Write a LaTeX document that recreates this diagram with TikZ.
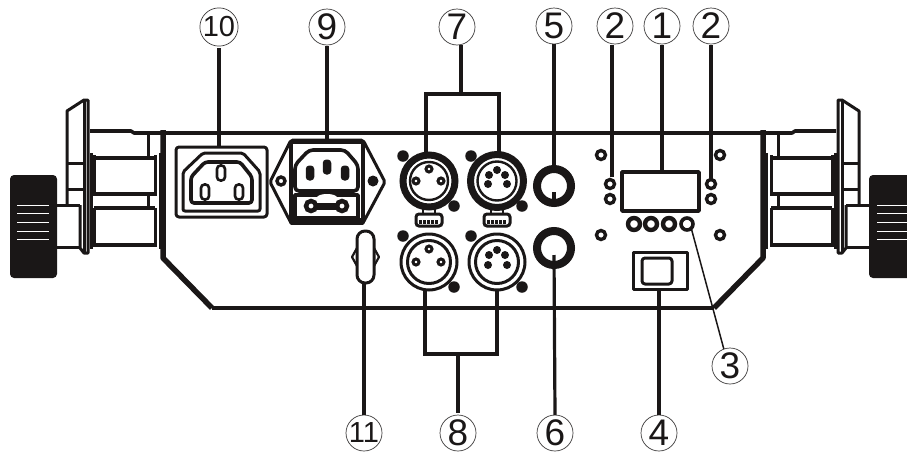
\documentclass[tikz,border=0pt]{standalone}
\usepackage{fontspec}
\setmainfont{Liberation Sans}
\definecolor{ink}{HTML}{1A1717}
\tikzset{
  every node/.style={outer sep=0pt,inner sep=0pt},
  lbl/.style={circle,draw=ink!85,line width=0.7pt,minimum size=36pt,text=ink,font=\fontsize{37}{37}\selectfont},
  lblsmall/.style={lbl,font=\fontsize{29}{29}\selectfont},
  conn/.style={draw=ink,line width=3.2pt},
  connthin/.style={draw=ink,line width=1.5pt},
  body/.style={draw=ink,line width=3.4pt},
  part/.style={draw=ink,line width=3pt,line join=round},
  thick part/.style={draw=ink,line width=3.6pt,line join=round},
  ringsmall/.style={circle,draw=ink,line width=3.4pt,fill=white,minimum size=9pt},
  button/.style={circle,draw=ink,line width=4.4pt,fill=white,minimum size=12pt},
  screw/.style={circle,fill=ink,minimum size=11.5pt},
  pinring/.style={circle,draw=ink,line width=3pt,fill=white,minimum size=6pt},
  pindot/.style={circle,fill=ink,minimum size=8pt},
  prong/.style={draw=ink,line width=2.6pt,fill=white,rounded corners=3.5pt,minimum width=8pt,minimum height=15pt},
  prongfill/.style={fill=ink,rounded corners=3.5pt,minimum width=8.5pt,minimum height=15pt},
}
\newcommand{\sidebracket}{%
  \fill[ink,rounded corners=4pt] (10,175) rectangle (57,278);
  \foreach \yy in {205,213,222,231,239}{\draw[white,line width=0.9pt] (17,\yy) -- (49,\yy);}
  \draw[part] (57,205) -- (80,205) (57,247) -- (80,247);
  \draw[part] (67,205) -- (67,111) -- (84,100) -- (88,100) -- (88,253) -- (84,253) -- (80,248) -- (80,205);
  \draw[part] (84,100) -- (84,253);
  \draw[part] (67,163) -- (84,163) (67,189) -- (84,189);
  \draw[thick part] (90,131) -- (131,131) -- (134,133) -- (163,133);
  \draw[part] (148,133) -- (148,158) (148,196) -- (148,208);
  \draw[part] (91,153) -- (91,249) (94,155) -- (94,196) (94,208) -- (94,247);
  \draw[part] (155,155) -- (155,196) (155,208) -- (155,247) (160,153) -- (160,249);
  \draw[thick part] (94,158) -- (155,158) (94,194) -- (155,194) (94,208) -- (155,208) (94,245) -- (155,245);
}
\begin{document}
\begin{tikzpicture}[x=1pt,y=-1pt]
\useasboundingbox (0,0) rectangle (907,453);
\clip (0,0) rectangle (907,453);
% brackets
\sidebracket
\begin{scope}[shift={(926,0)},xscale=-1]\sidebracket\end{scope}
% body
\draw[body] (163,133) -- (763,133);
\draw[body] (212,308) -- (714,308);
\draw[draw=ink,line width=5.5pt,line join=round] (163,130) -- (163,258) -- (212,308);
\draw[draw=ink,line width=5.5pt,line join=round] (763,130) -- (763,258) -- (714,308);
% labels
\node[lblsmall] (l10) at (219,27) {10};
\node[lbl] (l9) at (327,27) {9};
\node[lbl] (l7) at (457,27) {7};
\node[lbl] (l5) at (554,26) {5};
\node[lbl] (l2a) at (615,26) {2};
\node[lbl] (l1) at (662,26) {1};
\node[lbl] (l2b) at (711,26) {2};
\node[lbl] (l3) at (730,366) {3};
\node[lblsmall] (l11) at (364,433) {11};
\node[lbl] (l8) at (458,433) {8};
\node[lbl] (l6) at (555,433) {6};
\node[lbl] (l4) at (659,433) {4};
% inlet 10
\node[part,rounded corners=3pt,minimum width=91pt,minimum height=70pt] (inletA) at (221.5,182) {};
\draw[part,rounded corners=2pt] (183,172) -- (203,153) -- (243,153) -- (260,172) -- (260,211) -- (183,211) -- cycle;
\draw[thick part,rounded corners=3pt] (191,177) -- (205,162) -- (240,162) -- (252,177) -- (252,203) -- (191,203) -- cycle;
\node[prong] (pa1) at (221,173) {};
\node[prong] (pa2) at (205,192) {};
\node[prong] (pa3) at (239,192) {};
% inlet 9
\draw[part,rounded corners=2pt] (291,140) -- (270,182) -- (291,223) -- (363,223) -- (385,182) -- (363,140) -- cycle;
\node[thick part,minimum width=72pt,minimum height=81pt] (inletB) at (327,182.5) {};
\fill[ink] (291,218) rectangle (363,224);
\draw[thick part,rounded corners=4pt] (295,165) -- (309,150) -- (345,150) -- (358,165) -- (358,191) -- (295,191) -- cycle;
\node[prongfill] (pb1) at (310,173) {};
\node[prongfill] (pb2) at (327,167) {};
\node[prongfill] (pb3) at (345,173) {};
\draw[thick part] (295,195) rectangle (358,218);
\node[ringsmall,minimum size=8pt] (holeL) at (281,181) {};
\node[circle,fill=ink,minimum size=11pt] (holeR) at (373,181) {};
\fill[ink] (311,202.5) rectangle (342,209.5);
\node[circle,draw=ink,line width=4.5pt,fill=white,minimum size=10pt] (fuseL) at (311,206) {};
\node[circle,draw=ink,line width=4.5pt,fill=white,minimum size=10pt] (fuseR) at (342,206) {};
\fill[white] (327,197.5) ellipse (10pt and 3.5pt);
% xlr top
\node[circle,draw=ink,line width=7pt,minimum size=52pt] (xa) at (429,181) {};
\node[circle,draw=ink,line width=2.4pt,minimum size=38pt] (xai) at (429,181) {};
\node[circle,draw=ink,line width=7pt,minimum size=53pt] (xb) at (497,181) {};
\node[circle,draw=ink,line width=2.4pt,minimum size=39pt] (xbi) at (497,181) {};
\node[pinring] (xa1) at (429,169) {};
\node[pinring] (xa2) at (416,181) {};
\node[pinring] (xa3) at (441,181) {};
\node[pindot] (xb1) at (497,170) {};
\node[pindot] (xb2) at (489,175) {};
\node[pindot] (xb3) at (505,175) {};
\node[pindot] (xb4) at (488,184) {};
\node[pindot] (xb5) at (507,184) {};
\node[screw] (sa1) at (403,156) {};
\node[screw] (sa2) at (454,206) {};
\node[screw] (sb1) at (471,156) {};
\node[screw] (sb2) at (522,206) {};
\foreach \cx in {429,497}{
  \draw[part,line width=2.4pt] (\cx-6,208) -- (\cx-6,214) (\cx+6,208) -- (\cx+6,214);
  \draw[draw=ink,line width=3pt,fill=white,rounded corners=3pt] (\cx-13,214) rectangle (\cx+13,226);
  \draw[ink,line width=3.4pt,dash pattern=on 3pt off 1pt] (\cx-10,222) -- (\cx+10,222);
}
% xlr bottom
\node[circle,part,minimum size=56pt] (xc) at (429,262) {};
\node[circle,part,minimum size=43pt] (xci) at (429,262) {};
\node[circle,part,minimum size=56pt] (xd) at (497,262) {};
\node[circle,part,minimum size=43pt] (xdi) at (497,262) {};
\node[pinring] (xc1) at (429,249) {};
\node[pinring] (xc2) at (416,262) {};
\node[pinring] (xc3) at (441,262) {};
\node[pindot] (xd1) at (497,250) {};
\node[pindot] (xd2) at (489,255) {};
\node[pindot] (xd3) at (505,255) {};
\node[pindot] (xd4) at (488,265) {};
\node[pindot] (xd5) at (507,265) {};
\node[screw] (sc1) at (403,236) {};
\node[screw] (sc2) at (454,287) {};
\node[screw] (sd1) at (471,236) {};
\node[screw] (sd2) at (522,287) {};
% jacks
\node[circle,draw=ink,line width=8pt,minimum size=34pt] (ja) at (554,186) {};
\node[circle,draw=ink,line width=8pt,minimum size=34pt] (jb) at (554,248) {};
\draw[conn,line width=4.5pt] (ja.south) -- (554,192);
% strain relief
\node[part,rounded corners=8pt,minimum width=17pt,minimum height=52pt] (relief) at (365.5,257) {};
\draw[part,line width=2.2pt] (357,248) -- (352,257) -- (357,266) (374,248) -- (379,257) -- (374,266);
% control panel
\node[ringsmall] (r1) at (601,155) {};
\node[ringsmall] (r2) at (720,155) {};
\node[ringsmall] (r3) at (601,235) {};
\node[ringsmall] (r4) at (720,235) {};
\node[ringsmall] (r5) at (610,184) {};
\node[ringsmall] (r6) at (610,199) {};
\node[ringsmall] (r7) at (711,184) {};
\node[ringsmall] (r8) at (711,199) {};
\node[thick part,minimum width=77pt,minimum height=39pt] (display) at (660.5,191.5) {};
\draw[ink,line width=2.4pt] (622,210.5) -- (699,210.5);
\node[button] (b1) at (634,224) {};
\node[button] (b2) at (651,224) {};
\node[button] (b3) at (669,224) {};
\node[button,line width=3.6pt] (b4) at (687,224) {};
\node[part,minimum width=54pt,minimum height=37pt] (switch) at (660,270.5) {};
\node[part,rounded corners=3pt,minimum width=30pt,minimum height=26pt] (rocker) at (657,271) {};
% connectors
\path[conn] (l10.south) ++(0,2) coordinate (c10) (c10) -- (c10 |- inletA.north);
\path[conn] (l9.south) ++(0,1) coordinate (c9) (c9) -- (c9 |- inletB.north);
\coordinate (j7) at (461,94);
\coordinate (j8) at (458,354);
\path[conn] (461,45) -- (j7);
\path[conn,line join=miter] (426,153) -- (426,94) -- (499,94) -- (499,153);
\path[conn] (l5.south) -- (ja.north);
\path[conn] (612,45) -- (612,177);
\path[conn] (662,45) -- (662,172);
\path[conn] (711,45) -- (r7.north);
\path[connthin] (b4.-45) -- (l3.110);
\path[conn] (switch.south -| l4.north) -- (l4.north);
\path[conn] (554,255) -- (l6.north);
\path[conn] (relief.south -| l11.north) -- (l11.north);
\path[conn,line join=miter] (425,290) -- (425,354) -- (497,354) -- (497,290);
\path[conn] (j8) -- (458,413);
\end{tikzpicture}
\end{document}
